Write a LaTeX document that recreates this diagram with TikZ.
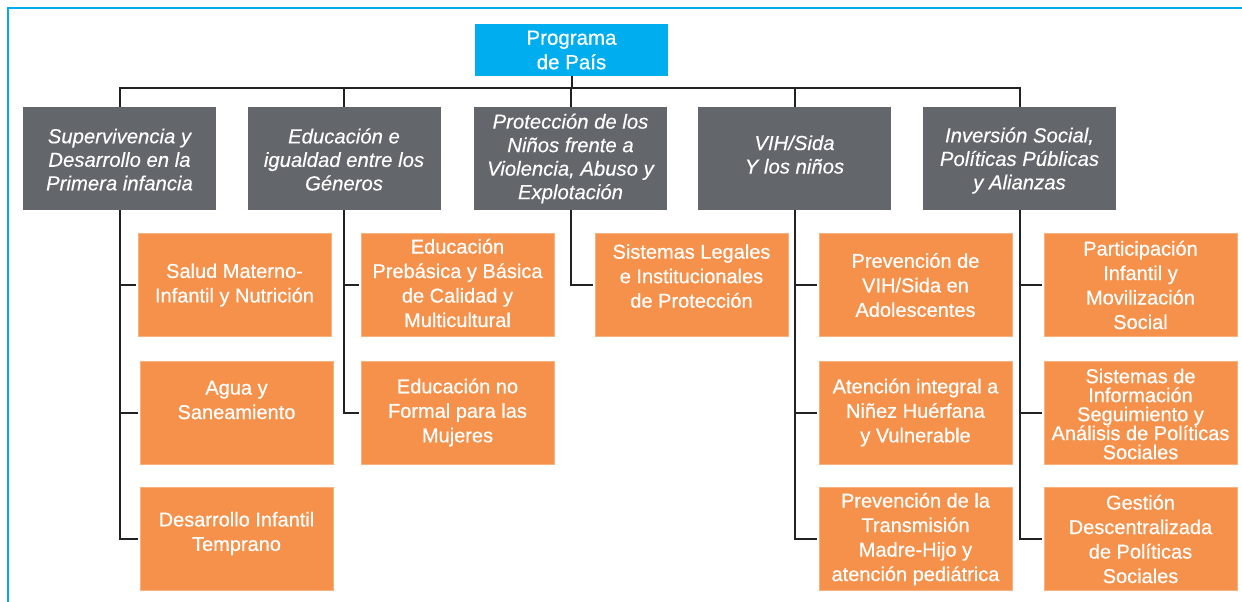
\documentclass[tikz,border=0pt]{standalone}
\usepackage{fontspec}
\setmainfont{Liberation Sans}
\newfontfamily\medfont{Liberation Sans}[FakeBold=0.6]
\newfontfamily\meditfont{Liberation Sans Italic}[FakeBold=0.3]
\definecolor{frameblue}{HTML}{00AEEF}
\definecolor{topblue}{HTML}{00AEEF}
\definecolor{catgray}{HTML}{63666A}
\definecolor{suborange}{HTML}{F5914A}
\definecolor{linegray}{HTML}{222222}
\tikzset{
  topbox/.style={fill=topblue, text=white, minimum width=193pt, minimum height=52pt, inner sep=0pt, align=center, font=\medfont\fontsize{20.5}{24.5}\selectfont},
  catbox/.style={fill=catgray, text=white, minimum width=193pt, minimum height=103pt, inner sep=0pt, align=center, font=\meditfont\fontsize{20.3}{23.5}\selectfont},
  subbox/.style={fill=suborange, draw=suborange!70!white, line width=0.6pt, text=white, minimum width=193pt, minimum height=103pt, inner sep=0pt, align=center, font=\medfont\fontsize{20}{24.5}\selectfont},
  subtxt/.style={text=white, inner sep=0pt, align=center, font=\medfont\fontsize{20}{24.5}\selectfont},
  cattxt/.style={text=white, inner sep=0pt, align=center, font=\meditfont\fontsize{20.3}{23.5}\selectfont},
  conn/.style={draw=linegray, line width=2pt}
}
\begin{document}
\begin{tikzpicture}[x=1pt,y=-1pt]
\useasboundingbox (0,0) rectangle (1242,602);
\fill[white] (0,0) rectangle (1242,602);
% frame
\draw[frameblue, line width=2.2pt] (8,602) -- (8,8) -- (1242,8);
% top
\node[topbox] (top) at (571.5,50) {Programa\\de País};
% categories
\node[catbox, label={[cattxt, yshift=-1pt]center:{Supervivencia y\\Desarrollo en la\\Primera infancia}}] (g1) at (119.5,158.5) {};
\node[catbox, label={[cattxt, yshift=-1pt]center:{Educación e\\igualdad entre los\\Géneros}}] (g2) at (344,158.5) {};
\node[catbox] (g3) at (570.5,158.5) {Protección de los\\Niños frente a\\Violencia, Abuso y\\Explotación};
\node[catbox, label={[cattxt, yshift=4pt]center:{VIH/Sida\\Y los niños}}] (g4) at (794.5,158.5) {};
\node[catbox, label={[cattxt, yshift=-2pt]center:{Inversión Social,\\Políticas Públicas\\y Alianzas}}] (g5) at (1019.5,158.5) {};
% column 1
\node[subbox] (s11) at (234.5,285) {Salud Materno-\\Infantil y Nutrición};
\node[subbox, label={[subtxt, yshift=12.5pt]center:{Agua y\\Saneamiento}}] (s12) at (236.5,412.5) {};
\node[subbox, label={[subtxt, yshift=5.5pt]center:{Desarrollo Infantil\\Temprano}}] (s13) at (236.5,539) {};
% column 2
\node[subbox, label={[subtxt, yshift=2pt]center:{Educación\\Prebásica y Básica\\de Calidad y\\Multicultural}}] (s21) at (457.5,285) {};
\node[subbox] (s22) at (457.5,412.5) {Educación no\\Formal para las\\Mujeres};
% column 3
\node[subbox, label={[subtxt, yshift=9pt]center:{Sistemas Legales\\e Institucionales\\de Protección}}] (s31) at (691.5,285) {};
% column 4
\node[subbox] (s41) at (915.5,285) {Prevención de\\VIH/Sida en\\Adolescentes};
\node[subbox] (s42) at (915.5,412.5) {Atención integral a\\Niñez Huérfana\\y Vulnerable};
\node[subbox] (s43) at (915.5,539) {Prevención de la\\Transmisión\\Madre-Hijo y\\atención pediátrica};
% column 5
\node[subbox] (s51) at (1140.5,285) {Participación\\Infantil y\\Movilización\\Social};
\node[subbox, label={[subtxt, yshift=-1.5pt, font=\medfont\fontsize{20}{19}\selectfont]center:{Sistemas de\\Información\\Seguimiento y\\Análisis de Políticas\\Sociales}}] (s52) at (1140.5,412.5) {};
\node[subbox] (s53) at (1140.5,539) {Gestión\\Descentralizada\\de Políticas\\Sociales};
% bus
\coordinate (bus) at (571.5,88);
\draw[conn] (top.south) -- (bus);
\foreach \g in {g1,g2,g3,g4,g5} {\draw[conn] (\g.north) |- (bus);}
% trunks
\foreach \g/\s in {g1/s11,g1/s12,g1/s13,g2/s21,g2/s22,g3/s31,g4/s41,g4/s42,g4/s43,g5/s51,g5/s52,g5/s53} {
  \draw[conn, shorten >=2pt] (\g.south) |- (\s.west);
}
\end{tikzpicture}
\end{document}
